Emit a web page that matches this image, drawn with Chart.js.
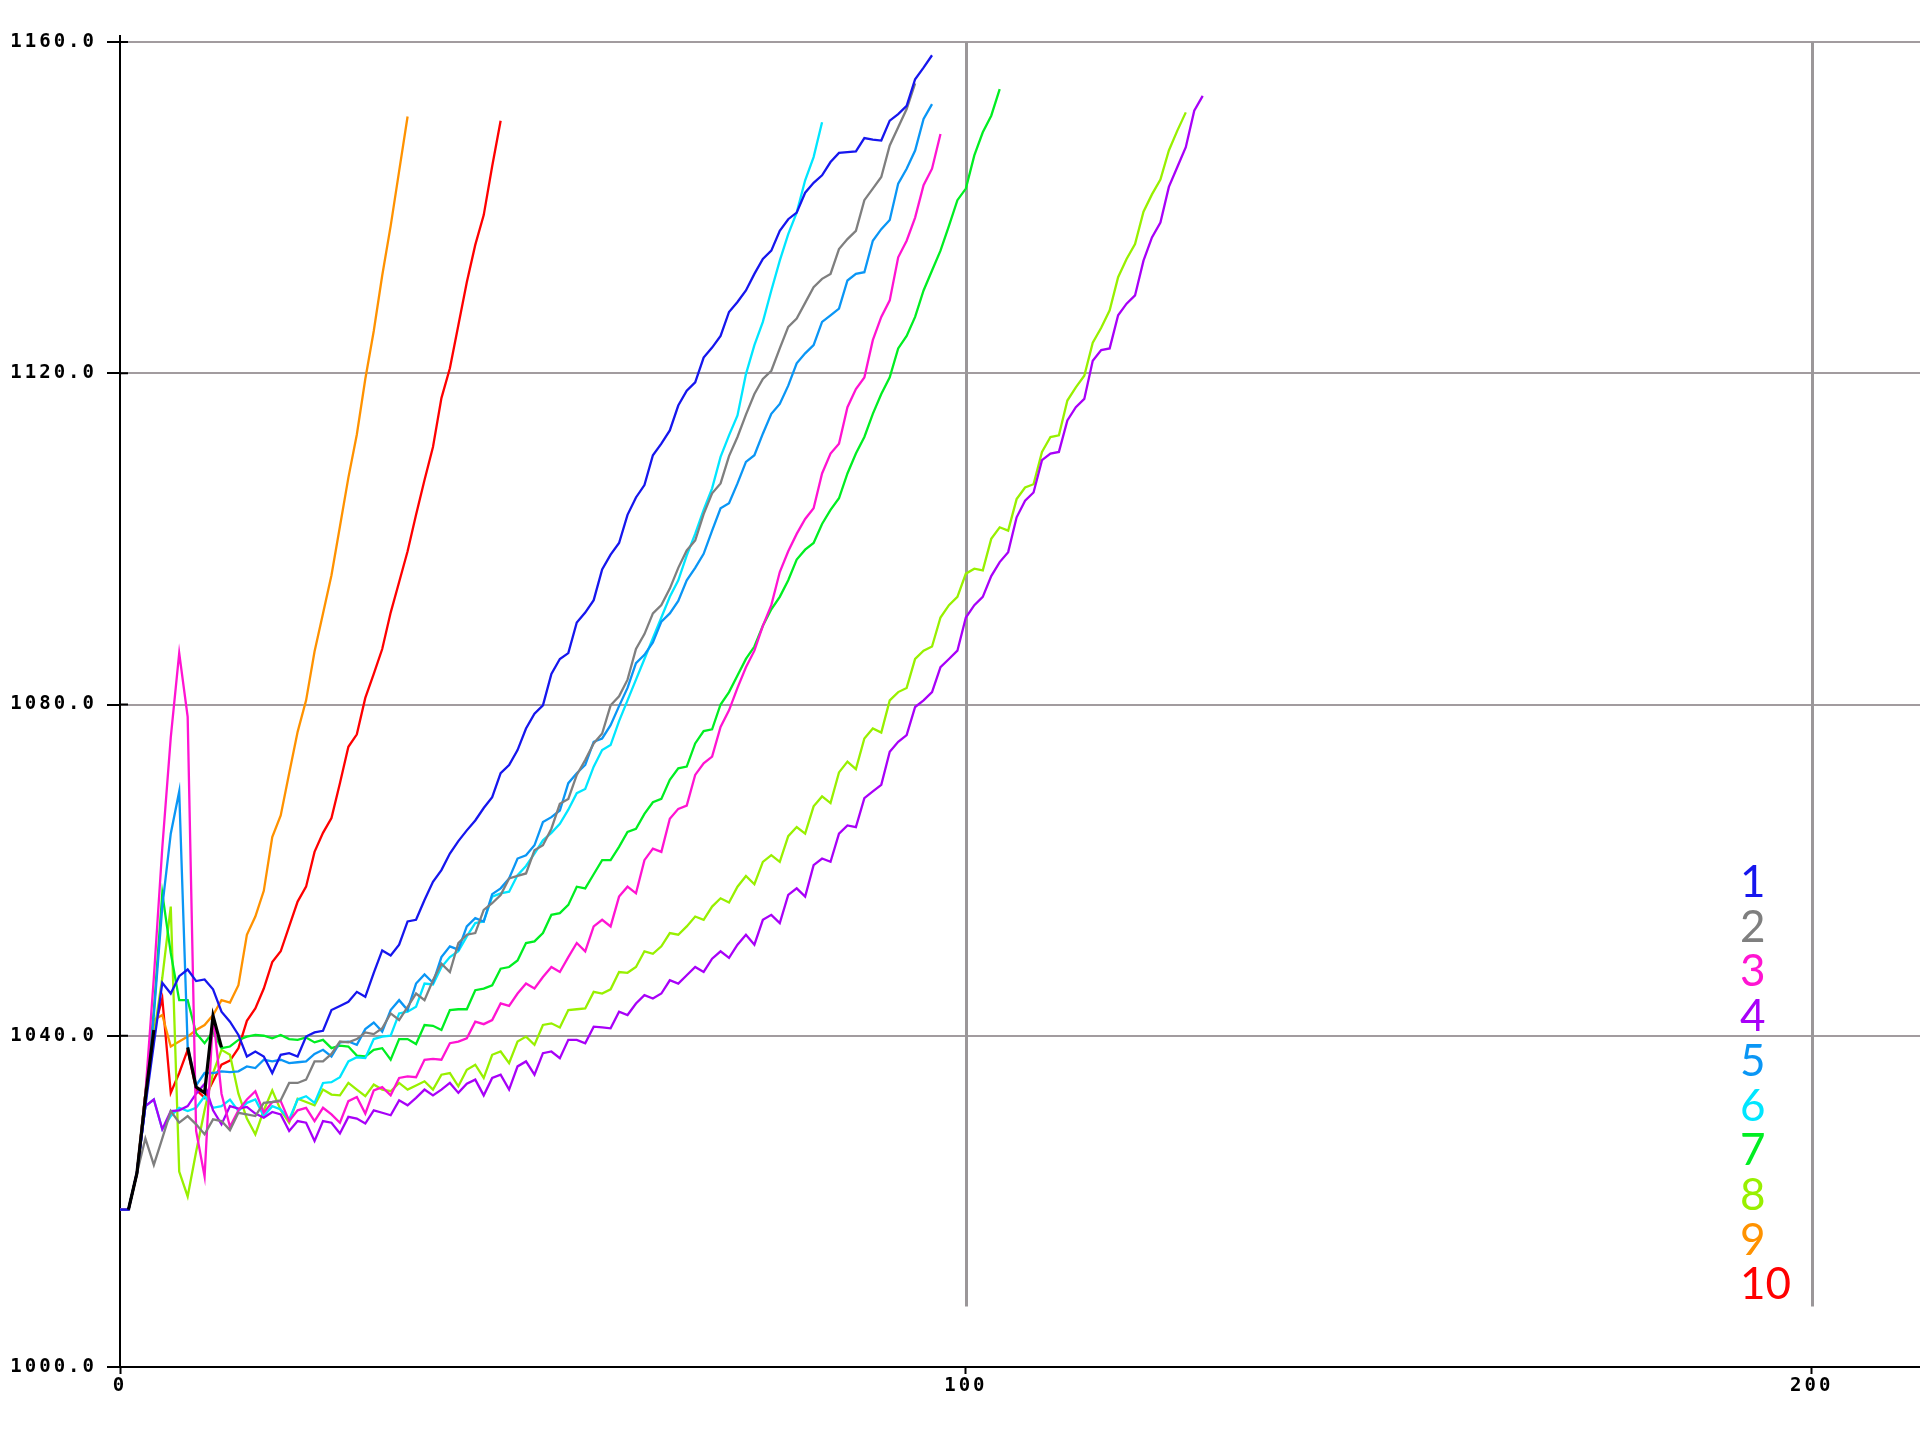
<!DOCTYPE html>
<html>
<head>
<meta charset="utf-8">
<style>
  html, body { margin: 0; padding: 0; background: #fff; }
  canvas { display: block; }
</style>
<script src="https://cdn.jsdelivr.net/npm/chart.js@4.4.1/dist/chart.umd.min.js"></script>
</head>
<body>
<canvas id="chart" width="1920" height="1429"></canvas>
<script>
// tick labels
const xTicks = [0, 100, 200];
const yTicks = [1000, 1040, 1080, 1120, 1160];
const seriesNames = ['1', '2', '3', '4', '5', '6', '7', '8', '9', '10'];

// black start trace (hidden between 5 and 7)
const xb = [1,2,3,4,5,6,7,8,9,10,11,12];
const yb = [1019,1023.4,1032.5,1040.7,null,null,null,1038.6,1033.8,1033.1,1042.4,1038.6];

const x1 = [0,1,2,3,4,5,6,7,8,9,10,11,12,13,14,15,16,17,18,19,20,21,22,23,24,25,26,27,28,29,
  30,31,32,33,34,35,36,37,38,39,40,41,42,43,44,45,46,47,48,49,50,51,52,53,54,55,56,57,58,59,
  60,61,62,63,64,65,66,67,68,69,70,71,72,73,74,75,76,77,78,79,80,81,82,83,84,85,86,87,88,89,
  90,91,92,93,94,95,96];
const y1 = [1019,1019,1023.5,1031.5,1039,1046.4,1045.1,1047.2,1048,1046.6,
  1046.8,1045.6,1042.9,1041.7,1040.1,1037.5,1038.1,1037.5,1035.5,1037.7,
  1037.9,1037.5,1039.9,1040.4,1040.6,1043.1,1043.6,1044.1,1045.3,1044.7,
  1047.6,1050.3,1049.7,1051,1053.8,1054,1056.4,1058.6,1060,1062,
  1063.5,1064.8,1066,1067.5,1068.8,1071.7,1072.7,1074.5,1077.1,1078.9,
  1079.9,1083.7,1085.5,1086.2,1089.9,1091.1,1092.6,1096.3,1098.1,1099.5,
  1102.9,1105,1106.5,1110.1,1111.5,1113.1,1116.1,1117.9,1118.9,1121.9,
  1123.1,1124.5,1127.4,1128.6,1130,1132,1133.8,1134.8,1137.2,1138.6,
  1139.4,1141.8,1143,1143.9,1145.5,1146.6,1146.7,1146.8,1148.4,1148.2,
  1148.1,1150.5,1151.3,1152.3,1155.5,1156.9,1158.4];

const x2 = [0,1,2,3,4,5,6,7,8,9,10,11,12,13,14,15,16,17,18,19,20,21,22,23,24,25,26,27,28,29,
  30,31,32,33,34,35,36,37,38,39,40,41,42,43,44,45,46,47,48,49,50,51,52,53,54,55,56,57,58,59,
  60,61,62,63,64,65,66,67,68,69,70,71,72,73,74,75,76,77,78,79,80,81,82,83,84,85,86,87,88,89,
  90,91,92,93,94];
const y2 = [1019,1019,1023.4,1027.6,1024.4,1027.6,1030.9,1029.5,1030.3,1029.3,
  1028.1,1029.9,1029.7,1028.6,1030.7,1030.5,1030.3,1031.9,1032,1032.2,
  1034.3,1034.3,1034.7,1036.9,1036.9,1037.8,1039.3,1039.2,1039.6,1040.4,
  1040.2,1040.9,1042.7,1041.9,1043.5,1045.1,1044.3,1046.7,1048.7,1047.7,
  1051.2,1052.2,1052.4,1055.2,1056,1057,1059,1059.3,1059.6,1062.4,
  1063,1065,1068,1068.6,1071.5,1073.3,1075.3,1076.5,1079.9,1081,
  1083,1086.7,1088.5,1091,1092,1094,1096.5,1098.6,1099.8,1103,
  1105.5,1106.7,1110,1112.3,1115,1117.5,1119.3,1120.3,1123,1125.6,
  1126.6,1128.5,1130.4,1131.4,1132,1135,1136.2,1137.2,1140.9,1142.3,
  1143.7,1147.5,1149.7,1151.9,1155];

const x3 = [0,1,2,3,4,5,6,7,8,9,10,11,12,13,14,15,16,17,18,19,20,21,22,23,24,25,26,27,28,29,
  30,31,32,33,34,35,36,37,38,39,40,41,42,43,44,45,46,47,48,49,50,51,52,53,54,55,56,57,58,59,
  60,61,62,63,64,65,66,67,68,69,70,71,72,73,74,75,76,77,78,79,80,81,82,83,84,85,86,87,88,89,
  90,91,92,93,94,95,96,97];
const y3 = [1019,1019,1023.4,1033,1047,1062.7,1076,1086.2,1078.5,1028.5,
  1023,1042.5,1033,1029,1031,1032.3,1033.3,1030.7,1032,1032.1,
  1029.7,1031,1031.3,1029.7,1031.3,1030.5,1029.5,1032.1,1032.6,1030.6,
  1033.4,1033.8,1032.8,1034.9,1035.1,1035,1037.1,1037.2,1037.1,1039.1,
  1039.3,1039.7,1041.7,1041.4,1041.9,1043.9,1043.6,1045.1,1046.3,1045.7,
  1047.1,1048.3,1047.7,1049.5,1051.2,1050.2,1053.2,1054,1053.2,1056.8,
  1058,1057.2,1061.2,1062.6,1062.2,1066.2,1067.4,1067.8,1071.5,1072.9,
  1073.7,1077.3,1079.3,1082,1084.5,1086.5,1089.5,1092,1096,1098.5,
  1100.6,1102.4,1103.7,1107.9,1110.3,1111.5,1115.9,1118.1,1119.5,1124,
  1126.8,1128.8,1134,1136,1138.8,1142.7,1144.7,1148.9];

const x4 = [0,1,2,3,4,5,6,7,8,9,10,11,12,13,14,15,16,17,18,19,20,21,22,23,24,25,26,27,28,29,
  30,31,32,33,34,35,36,37,38,39,40,41,42,43,44,45,46,47,48,49,50,51,52,53,54,55,56,57,58,59,
  60,61,62,63,64,65,66,67,68,69,70,71,72,73,74,75,76,77,78,79,80,81,82,83,84,85,86,87,88,89,
  90,91,92,93,94,95,96,97,98,99,100,101,102,103,104,105,106,107,108,109,110,111,112,113,114,
  115,116,117,118,119,120,121,122,123,124,125,126,127,128];
const y4 = [1019,1019,1023.4,1031.5,1032.3,1028.7,1030.9,1031,1031.5,1033,
  1034.2,1031,1029.3,1031.5,1031.2,1031.4,1030.6,1030.1,1030.8,1030.5,
  1028.5,1029.7,1029.5,1027.3,1029.7,1029.5,1028.2,1030.2,1030,1029.4,
  1031,1030.7,1030.4,1032.2,1031.6,1032.5,1033.5,1032.8,1033.5,1034.3,
  1033.1,1034.2,1034.7,1032.8,1034.9,1035.3,1033.5,1036.3,1036.9,1035.3,
  1037.9,1038.1,1037.3,1039.5,1039.5,1039.1,1041.1,1041,1040.9,1042.9,
  1042.5,1043.9,1044.9,1044.5,1045.1,1046.7,1046.3,1047.3,1048.3,1047.7,
  1049.3,1050.2,1049.4,1051,1052.2,1051,1054,1054.6,1053.6,1057,
  1057.8,1056.8,1060.6,1061.4,1061,1064.4,1065.4,1065.2,1068.7,1069.5,
  1070.3,1074.3,1075.5,1076.3,1079.7,1080.5,1081.5,1084.5,1085.5,1086.5,
  1090.5,1092,1093,1095.5,1097.2,1098.4,1102.6,1104.6,1105.6,1109.5,
  1110.3,1110.5,1114.3,1115.9,1116.9,1121.5,1122.8,1123,1127,1128.4,
  1129.4,1133.6,1136.4,1138.2,1142.5,1144.9,1147.3,1151.7,1153.5];

const x5 = [0,1,2,3,4,5,6,7,8,9,10,11,12,13,14,15,16,17,18,19,20,21,22,23,24,25,26,27,28,29,
  30,31,32,33,34,35,36,37,38,39,40,41,42,43,44,45,46,47,48,49,50,51,52,53,54,55,56,57,58,59,
  60,61,62,63,64,65,66,67,68,69,70,71,72,73,74,75,76,77,78,79,80,81,82,83,84,85,86,87,88,89,
  90,91,92,93,94,95,96];
const y5 = [1019,1019,1023.4,1031.5,1042.5,1055.6,1064.4,1069.5,1038.7,1034,
  1035.5,1035.5,1035.7,1035.6,1035.7,1036.3,1036.1,1037.1,1036.9,1037.1,
  1036.7,1036.8,1036.9,1037.8,1038.3,1037.5,1039.2,1039.3,1038.9,1040.8,
  1041.6,1040.5,1043.1,1044.3,1043.1,1046.3,1047.4,1046.4,1049.5,1050.8,
  1050.4,1053.2,1054.2,1053.8,1057.1,1057.8,1059,1061.4,1061.8,1063,
  1065.8,1066.4,1067.2,1070.5,1071.7,1072.7,1075.5,1075.9,1077.5,1079.8,
  1082,1085,1086,1087.5,1090,1091,1092.5,1095,1096.5,1098.2,
  1101,1103.7,1104.3,1106.7,1109.3,1110.1,1112.7,1115.1,1116.3,1118.5,
  1121.2,1122.4,1123.4,1126.2,1127,1127.8,1131.2,1132,1132.2,1136,
  1137.4,1138.5,1142.9,1144.7,1146.9,1150.7,1152.5];

const x6 = [0,1,2,3,4,5,6,7,8,9,10,11,12,13,14,15,16,17,18,19,20,21,22,23,24,25,26,27,28,29,
  30,31,32,33,34,35,36,37,38,39,40,41,42,43,44,45,46,47,48,49,50,51,52,53,54,55,56,57,58,59,
  60,61,62,63,64,65,66,67,68,69,70,71,72,73,74,75,76,77,78,79,80,81,82,83];
const y6 = [1019,1019,1023.4,1031.5,1032.3,1028.7,1030.3,1031.3,1030.9,1031.3,
  1032.7,1031.3,1031.5,1032.3,1030.9,1031.9,1032.3,1030.3,1031.5,1031.1,
  1029.9,1032.3,1032.7,1031.9,1034.3,1034.4,1035,1036.9,1037.4,1037.3,
  1039.6,1039.9,1040,1042.7,1042.9,1043.5,1046.3,1046.2,1048.3,1049.5,
  1050.2,1052,1053.6,1053.8,1056.8,1057.2,1057.4,1059.4,1060.5,1062,
  1063.6,1064.5,1065.6,1067.3,1069.3,1069.8,1072.5,1074.5,1075.1,1078,
  1080.5,1083,1085.5,1088,1090.5,1093,1095,1098,1100.6,1103.5,
  1106.1,1109.9,1112.5,1114.9,1119.9,1123.4,1126.2,1130,1133.6,1136.8,
  1139.4,1143.3,1146.1,1150.3];

const x7 = [0,1,2,3,4,5,6,7,8,9,10,11,12,13,14,15,16,17,18,19,20,21,22,23,24,25,26,27,28,29,
  30,31,32,33,34,35,36,37,38,39,40,41,42,43,44,45,46,47,48,49,50,51,52,53,54,55,56,57,58,59,
  60,61,62,63,64,65,66,67,68,69,70,71,72,73,74,75,76,77,78,79,80,81,82,83,84,85,86,87,88,89,
  90,91,92,93,94,95,96,97,98,99,100,101,102,103,104];
const y7 = [1019,1019,1023.4,1033,1043,1057.2,1050,1044.3,1044.3,1040.3,
  1039.1,1040.5,1038.5,1038.7,1039.5,1039.9,1040.1,1040,1039.7,1040.1,
  1039.6,1039.5,1039.8,1039.2,1039.5,1038.5,1038.8,1038.7,1037.6,1037.5,
  1038.3,1038.5,1037.1,1039.6,1039.6,1039,1041.3,1041.2,1040.7,1043.1,
  1043.2,1043.2,1045.5,1045.7,1046.1,1048.1,1048.3,1049.1,1051.2,1051.4,
  1052.4,1054.6,1054.8,1055.8,1058,1057.8,1059.5,1061.2,1061.2,1062.8,
  1064.6,1065,1066.8,1068.2,1068.6,1070.9,1072.3,1072.5,1075.3,1076.8,
  1077,1080,1081.5,1083.5,1085.5,1087,1089.5,1091.5,1093,1095,
  1097.5,1098.7,1099.5,1101.8,1103.5,1104.9,1107.9,1110.3,1112.3,1115.1,
  1117.5,1119.5,1123,1124.5,1126.8,1130,1132.4,1134.8,1137.8,1140.9,
  1142.3,1146.3,1149.1,1151.1,1154.3];

const x8 = [0,1,2,3,4,5,6,7,8,9,10,11,12,13,14,15,16,17,18,19,20,21,22,23,24,25,26,27,28,29,
  30,31,32,33,34,35,36,37,38,39,40,41,42,43,44,45,46,47,48,49,50,51,52,53,54,55,56,57,58,59,
  60,61,62,63,64,65,66,67,68,69,70,71,72,73,74,75,76,77,78,79,80,81,82,83,84,85,86,87,88,89,
  90,91,92,93,94,95,96,97,98,99,100,101,102,103,104,105,106,107,108,109,110,111,112,113,114,
  115,116,117,118,119,120,121,122,123,124,125,126];
const y8 = [1019,1019,1023.4,1032.5,1040,1047,1055.6,1023.6,1020.6,1026,
  1031,1035.5,1038.3,1037.7,1033,1030,1028.1,1031,1033.4,1031,
  1029.5,1032.4,1032,1031.6,1033.5,1032.9,1032.8,1034.3,1033.5,1032.7,
  1034.1,1033.5,1033.3,1034.3,1033.5,1034,1034.5,1033.5,1035.3,1035.5,
  1033.9,1035.9,1036.5,1034.9,1037.7,1038.1,1036.7,1039.3,1039.9,1038.9,
  1041.3,1041.5,1041,1043.1,1043.2,1043.3,1045.3,1045.1,1045.6,1047.7,
  1047.6,1048.3,1050.2,1049.9,1050.8,1052.4,1052.2,1053.2,1054.4,1054,
  1055.6,1056.6,1056.1,1058,1059.3,1058.3,1061,1061.8,1061,1064.1,
  1065.2,1064.4,1067.7,1068.9,1068.1,1071.8,1073.1,1072.2,1075.9,1077.1,
  1076.6,1080.5,1081.5,1082,1085.5,1086.5,1087,1090.5,1092,1093,
  1095.8,1096.4,1096.2,1100,1101.4,1101,1104.8,1106.2,1106.6,1110.5,
  1112.3,1112.5,1116.7,1118.3,1119.7,1123.7,1125.5,1127.6,1131.6,1133.8,
  1135.6,1139.5,1141.6,1143.4,1146.9,1149.3,1151.5];

const x9 = [0,1,2,3,4,5,6,7,8,9,10,11,12,13,14,15,16,17,18,19,20,21,22,23,24,25,26,27,28,29,
  30,31,32,33,34];
const y9 = [1019,1019,1023.4,1033,1041.9,1042.5,1038.7,1039.3,1039.9,1040.7,
  1041.3,1042.5,1044.3,1044,1046.1,1052.2,1054.4,1057.5,1064,1066.6,
  1071.7,1076.7,1080.5,1086.4,1091,1095.6,1101.5,1107.4,1112.6,1119.3,
  1125.1,1131.8,1137.8,1144.4,1151];

const x10 = [0,1,2,3,4,5,6,7,8,9,10,11,12,13,14,15,16,17,18,19,20,21,22,23,24,25,26,27,28,29,
  30,31,32,33,34,35,36,37,38,39,40,41,42,43,44,45];
const y10 = [1019,1019,1023.4,1033,1040.7,1044.5,1033.1,1035.5,1038.3,1033.5,
  1032.5,1034.5,1036.5,1037,1038.5,1041.8,1043.3,1045.7,1048.9,1050.2,
  1053.2,1056.2,1058,1062.2,1064.5,1066.3,1070.5,1074.9,1076.4,1080.8,
  1083.7,1086.7,1091.1,1094.8,1098.5,1102.9,1107.1,1111.1,1117,1120.6,
  1125.8,1131,1135.5,1139.1,1145,1150.5];

const seriesX = [x1, x2, x3, x4, x5, x6, x7, x8, x9, x10];
const seriesY = [y1, y2, y3, y4, y5, y6, y7, y8, y9, y10];
const colors = ['#1616ee', '#7f7f7f', '#ff14d2', '#a800f8', '#0a96f5',
                '#00e6ff', '#00ee22', '#98f000', '#ff9200', '#ff0000'];

const pts = (xs, ys) => xs.map((x, i) => ({ x: x, y: ys[i] }));

const datasets = [{
  label: 'start',
  data: pts(xb, yb),
  borderColor: '#000',
  borderWidth: 3.2,
  spanGaps: false
}];
seriesNames.forEach((name, k) => {
  datasets.push({
    label: name,
    data: pts(seriesX[k], seriesY[k]),
    borderColor: colors[k],
    borderWidth: 2.3
  });
});

const gridGrey = '#a29c9f';
const vLineBottom = 1007.3;

const decor = {
  id: 'decor',
  beforeDraw(chart) {
    chart.ctx.letterSpacing = '3px';
  },
  beforeDatasetsDraw(chart) {
    const { ctx, scales: { x, y } } = chart;
    ctx.save();
    ctx.strokeStyle = '#9b9799';
    ctx.lineWidth = 3;
    [100, 200].forEach(v => {
      const px = Math.round(x.getPixelForValue(v)) + 0.5;
      ctx.beginPath();
      ctx.moveTo(px, y.getPixelForValue(1160));
      ctx.lineTo(px, y.getPixelForValue(vLineBottom));
      ctx.stroke();
    });
    ctx.restore();
  },
  afterDraw(chart) {
    const { ctx, chartArea: area, scales: { y } } = chart;
    ctx.save();
    ctx.strokeStyle = '#000';
    ctx.lineWidth = 2;
    // inner parts of the y ticks and axis overshoot
    yTicks.forEach(v => {
      const py = y.getPixelForValue(v);
      ctx.beginPath();
      ctx.moveTo(area.left, py);
      ctx.lineTo(area.left + 8, py);
      ctx.stroke();
    });
    ctx.beginPath();
    ctx.moveTo(area.left, area.top - 7);
    ctx.lineTo(area.left, area.top);
    ctx.stroke();

    // legend
    ctx.letterSpacing = '0px';
    ctx.font = '44px Lato';
    ctx.textAlign = 'left';
    ctx.textBaseline = 'alphabetic';
    seriesNames.forEach((name, i) => {
      ctx.fillStyle = colors[i];
      ctx.fillText(name, 1740, 897 + i * 44.7);
    });
    ctx.restore();
  }
};

const tickFont = { family: 'DejaVu Sans Mono', weight: 'bold', size: 19 };

new Chart(document.getElementById('chart'), {
  type: 'line',
  data: { datasets: datasets },
  options: {
    responsive: false,
    animation: false,
    devicePixelRatio: 1,
    layout: { padding: { top: 42, right: 0, left: 0, bottom: 0 } },
    elements: {
      point: { radius: 0, hoverRadius: 0 },
      line: { tension: 0, borderJoinStyle: 'miter' }
    },
    plugins: {
      legend: { display: false },
      tooltip: { enabled: false }
    },
    events: [],
    scales: {
      x: {
        type: 'linear',
        min: 0,
        max: 212.8,
        afterBuildTicks: s => { s.ticks = xTicks.map(v => ({ value: v })); },
        afterFit: s => { s.height = 62; },
        border: { display: true, color: '#000', width: 2 },
        grid: { drawOnChartArea: false, tickLength: 7, tickColor: '#000', tickWidth: 2, color: '#000' },
        ticks: { color: '#000', font: tickFont, padding: 1, maxRotation: 0, callback: v => String(v) }
      },
      y: {
        type: 'linear',
        min: 1000,
        max: 1160,
        afterBuildTicks: s => { s.ticks = yTicks.map(v => ({ value: v })); },
        afterFit: s => { s.width = 120; },
        border: { display: true, color: '#000', width: 2 },
        grid: {
          color: c => (c.tick && c.tick.value === 1000) ? 'rgba(0,0,0,0)' : gridGrey,
          lineWidth: 2,
          tickLength: 13,
          tickColor: '#000',
          tickWidth: 2
        },
        ticks: { color: '#000', font: tickFont, padding: 10, callback: v => v.toFixed(1) }
      }
    }
  },
  plugins: [decor]
});
</script>
</body>
</html>
